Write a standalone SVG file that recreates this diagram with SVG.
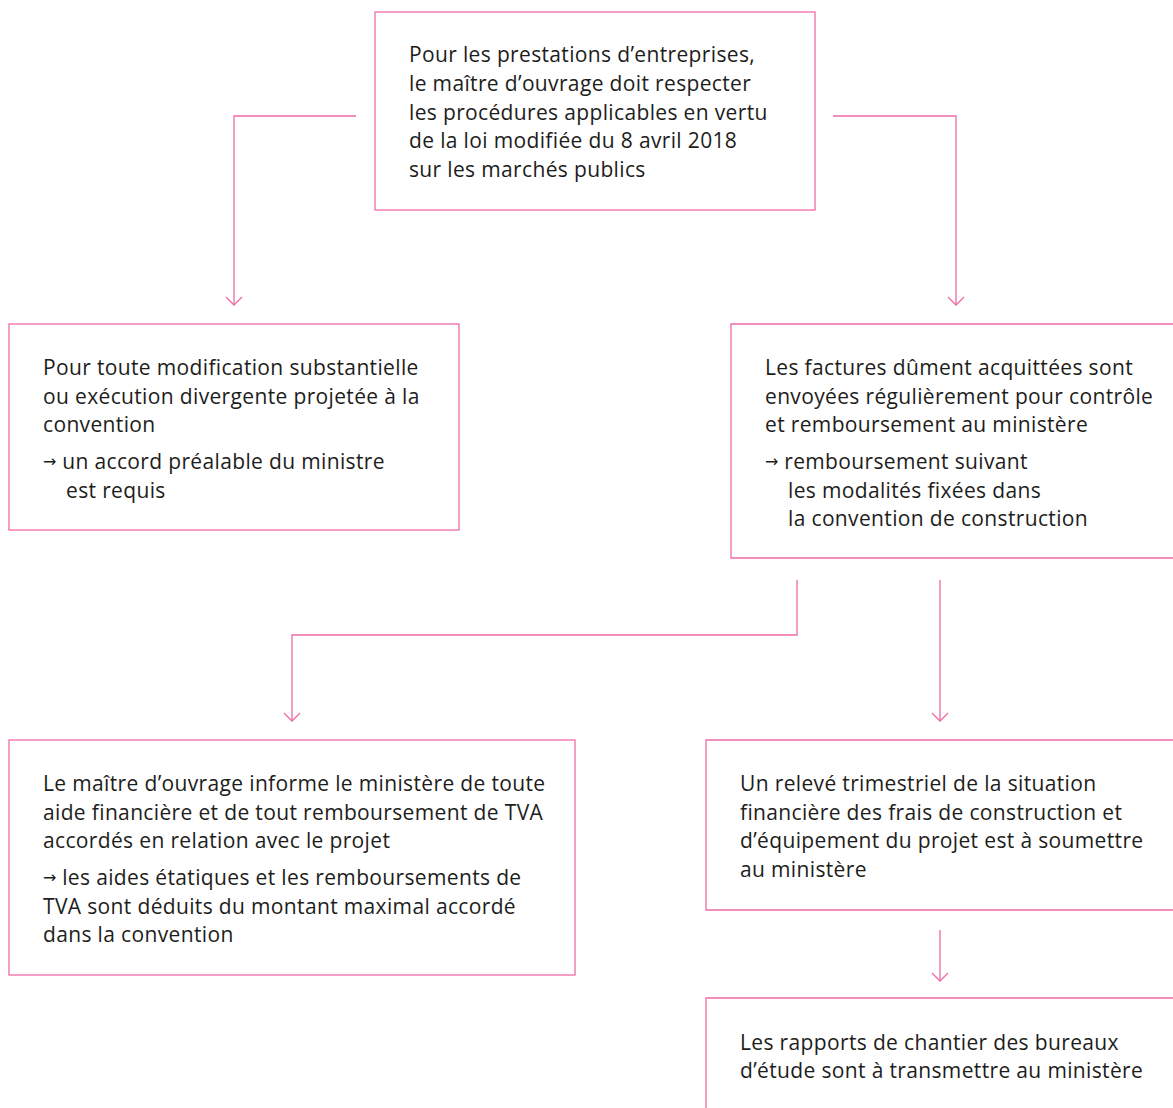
<svg xmlns="http://www.w3.org/2000/svg" width="1173" height="1108" viewBox="0 0 1173 1108">
<style>
.box{fill:none;stroke:#ee6aa7;stroke-width:1.3}
.c{fill:none;stroke:#ee6aa7;stroke-width:1.3}
text{font-family:"Open Sans","Lato","Liberation Sans",sans-serif;font-size:21px;letter-spacing:0.35px;fill:#1d1d1b}
.ar{font-family:"DejaVu Sans",sans-serif;font-size:16px;letter-spacing:0}
</style>
<defs>
<marker id="ah" markerWidth="20" markerHeight="20" refX="10" refY="10" markerUnits="userSpaceOnUse" orient="auto">
<path d="M2,2 L10,10 L2,18" fill="none" stroke="#ee6aa7" stroke-width="1.3"/>
</marker>
</defs>
<rect x="0" y="0" width="1173" height="1108" fill="#fff"/>
<g id="connectors">
<path class="c" d="M356,116 H234 V305" marker-end="url(#ah)"/>
<path class="c" d="M833,116 H956 V305" marker-end="url(#ah)"/>
<path class="c" d="M797,580 V635 H292 V721" marker-end="url(#ah)"/>
<path class="c" d="M940,580 V721" marker-end="url(#ah)"/>
<path class="c" d="M940,930 V981" marker-end="url(#ah)"/>
</g>
<g id="n1">
<rect class="box" x="375" y="12" width="440" height="198"/>
<text x="409" y="62">Pour les prestations d’entreprises,</text>
<text x="409" y="91">le maître d’ouvrage doit respecter</text>
<text x="409" y="120">les procédures applicables en vertu</text>
<text x="409" y="148">de la loi modifiée du 8 avril 2018</text>
<text x="409" y="177">sur les marchés publics</text>
</g>
<g id="n2">
<rect class="box" x="9" y="324" width="450" height="206"/>
<text x="43" y="375">Pour toute modification substantielle</text>
<text x="43" y="404">ou exécution divergente projetée à la</text>
<text x="43" y="432">convention</text>
<text x="43" y="469"><tspan class="ar" dy="-2">→</tspan><tspan dy="2"> un accord préalable du ministre</tspan></text>
<text x="66" y="498">est requis</text>
</g>
<g id="n3">
<path class="box" d="M1174,324 H731 V558 H1174"/>
<text x="765" y="375">Les factures dûment acquittées sont</text>
<text x="765" y="404">envoyées régulièrement pour contrôle</text>
<text x="765" y="432">et remboursement au ministère</text>
<text x="765" y="469"><tspan class="ar" dy="-2">→</tspan><tspan dy="2"> remboursement suivant</tspan></text>
<text x="788" y="498">les modalités fixées dans</text>
<text x="788" y="526">la convention de construction</text>
</g>
<g id="n4">
<rect class="box" x="9" y="740" width="566" height="235"/>
<text x="43" y="791">Le maître d’ouvrage informe le ministère de toute</text>
<text x="43" y="820">aide financière et de tout remboursement de TVA</text>
<text x="43" y="848">accordés en relation avec le projet</text>
<text x="43" y="885"><tspan class="ar" dy="-2">→</tspan><tspan dy="2"> les aides étatiques et les remboursements de</tspan></text>
<text x="43" y="914">TVA sont déduits du montant maximal accordé</text>
<text x="43" y="942">dans la convention</text>
</g>
<g id="n5">
<path class="box" d="M1174,740 H706 V910 H1174"/>
<text x="740" y="791">Un relevé trimestriel de la situation</text>
<text x="740" y="820">financière des frais de construction et</text>
<text x="740" y="848">d’équipement du projet est à soumettre</text>
<text x="740" y="877">au ministère</text>
</g>
<g id="n6">
<path class="box" d="M1174,998 H706 V1109"/>
<text x="740" y="1050">Les rapports de chantier des bureaux</text>
<text x="740" y="1078">d’étude sont à transmettre au ministère</text>
</g>
</svg>
